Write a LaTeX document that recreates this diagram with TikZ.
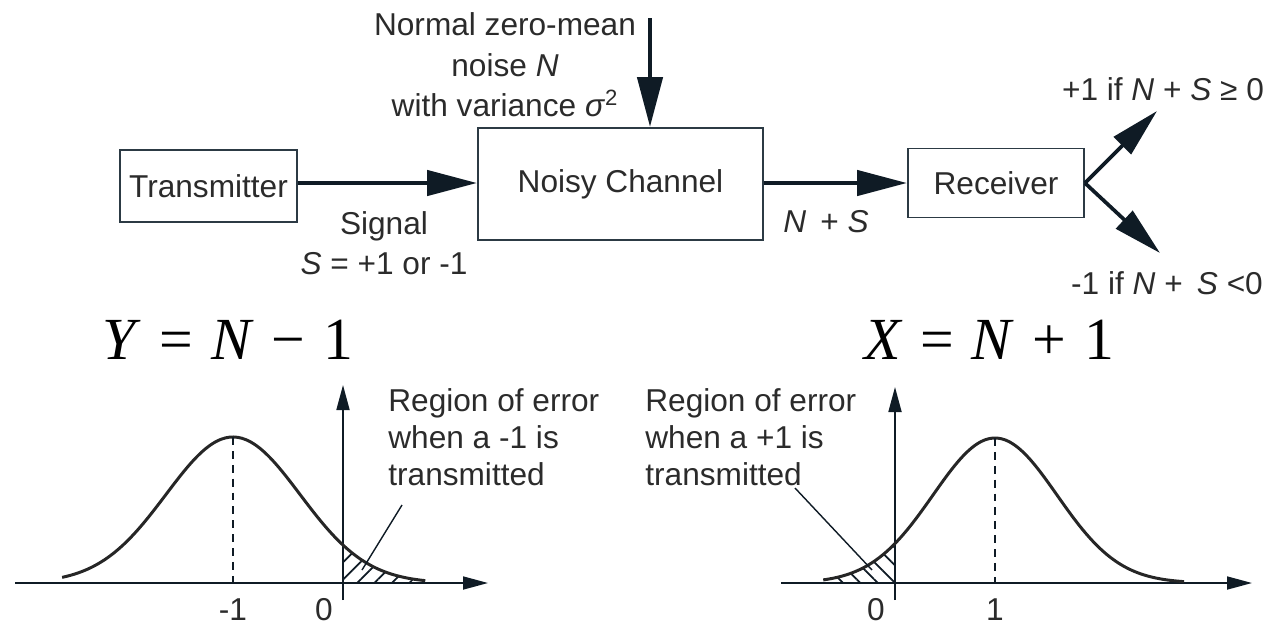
\documentclass[tikz,border=0pt]{standalone}
\usepackage{fontspec}
\setmainfont{Liberation Sans}
\newfontfamily\eqfont{Liberation Serif}
\usepackage{tikz}
\usetikzlibrary{
  arrows.meta,
  patterns.meta
}
\definecolor{Ink}{HTML}{0F1B25}
\definecolor{BoxLine}{HTML}{2C3A44}
\definecolor{TextGray}{HTML}{2B2B2B}
\definecolor{CurveGray}{HTML}{262626}
\newcommand{\eqgap}{\hspace{0.3em}}

\begin{document}
\begin{tikzpicture}[
  x=0.02cm, y=-0.02cm,
  font=\fontsize{18}{23}\selectfont,
  block/.style={
    draw=BoxLine,
    line width=1.1pt,
    text=TextGray,
    inner sep=0pt
  },
  label/.style={text=TextGray,inner sep=0pt},
  bigeq/.style={inner sep=0pt,font=\eqfont\fontsize{34}{40}\selectfont},
  flow/.style={-{Triangle[length=1cm,width=0.5cm]},draw=Ink,line width=2.6pt},
  fork/.style={-{Triangle[length=0.98cm,width=0.48cm]},draw=Ink,line width=2.1pt},
  axis/.style={-{Triangle[length=0.5cm,width=0.26cm]},draw=Ink,line width=1pt},
  density/.style={draw=CurveGray,line width=1.7pt},
  meanline/.style={draw=Ink,line width=0.9pt,dash pattern=on 4.5pt off 3.4pt},
  leader/.style={draw=Ink,line width=0.8pt},
  hatch/.style={pattern={Lines[angle=#1,distance=7pt,line width=1pt]},pattern color=Ink}
]
\useasboundingbox (0,0) rectangle (1269,627);

% --- channel model
\node[block,minimum width=3.54cm,minimum height=1.44cm] (tx) at (208.5,186) {Transmitter};
\node[block,minimum width=5.7cm,minimum height=2.24cm] (chan) at (620.5,184) {Noisy Channel};
\node[block,minimum width=3.52cm,minimum height=1.38cm] (rx) at (996,183) {Receiver};

\node[label,align=center] (noise) at (505,65)
  {Normal zero-mean\\noise \textit{N}\\with variance \textit{σ}\textsuperscript{2}};
\node[label,align=center] (signal) at (384,243)
  {Signal\\\textit{S} = +1 or -1};
\node[label] (sum) at (826,222) {\textit{N}\, + \textit{S}};
\node[label] (plusone) at (1163,89) {+1 if \textit{N} + \textit{S} ≥ 0};
\node[label] (minusone) at (1167,283) {-1 if \textit{N} +\, \textit{S} <0};

\coordinate (noisetop) at (650,18);
\coordinate (uptip) at (1157,111);
\coordinate (downtip) at (1160,253);

\draw[flow] (noisetop) -- (noisetop |- chan.north);
\draw[flow] (tx.east |- 0,183) -- (chan.west |- 0,183);
\draw[flow] (chan.east |- 0,183) -- (rx.west |- 0,183);
\draw[fork] (rx.east) -- (uptip);
\draw[fork] (rx.east) -- (downtip);

% --- Y = N - 1
\node[bigeq] (yeq) at (228,340) {\textit{Y}\eqgap=\eqgap\textit{N}\eqgap−\eqgap1};
\draw[axis] (15,583) -- (488,583);
\draw[axis] (343,600) -- (343,385);
\fill[hatch=45]
  (343,583) -- plot[domain=1.642:2.87,samples=30,variable=\t]
  ({233+67*\t},{583-146*exp(-\t*\t/2)}) -- (425,583) -- cycle;
\draw[density] plot[domain=-2.55:2.87,samples=90,smooth,variable=\t]
  ({233+67*\t},{583-146*exp(-\t*\t/2)});
\draw[meanline] (233,437) -- (233,583);
\node[label] (ym1) at (233,610) {-1};
\node[label] (y0) at (324,610) {0};
\node[label,align=left,anchor=west,font=\fontsize{18}{21}\selectfont] (yerr) at (388,437)
  {Region of error\\when a -1 is\\transmitted};
\coordinate (yhatch) at (362,570);
\draw[leader] (402,505) -- (yhatch);

% --- X = N + 1
\node[bigeq] (xeq) at (989,340) {\textit{X}\eqgap=\eqgap\textit{N}\eqgap+\eqgap1};
\draw[axis] (781,583) -- (1252,583);
\draw[axis] (895,600) -- (895,387);
\fill[hatch=-45]
  (835,583) -- plot[domain=-2.58:-1.613,samples=30,variable=\t]
  ({995+62*\t},{583-145*exp(-\t*\t/2)}) -- (895,583) -- cycle;
\draw[density] plot[domain=-2.77:3.05,samples=90,smooth,variable=\t]
  ({995+62*\t},{583-145*exp(-\t*\t/2)});
\draw[meanline] (995,438) -- (995,583);
\node[label] (x0) at (876,610) {0};
\node[label] (x1) at (995,610) {1};
\node[label,align=left,anchor=west,font=\fontsize{18}{21}\selectfont] (xerr) at (645,437)
  {Region of error\\when a +1 is\\transmitted};
\coordinate (xhatch) at (872,570);
\draw[leader] (795,488) -- (xhatch);
\end{tikzpicture}
\end{document}
